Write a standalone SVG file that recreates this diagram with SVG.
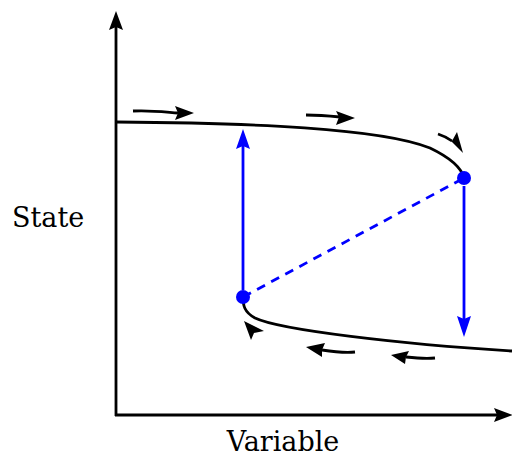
<svg xmlns="http://www.w3.org/2000/svg" width="512" height="457" viewBox="0 0 512 457">
<style>
.k{fill:none;stroke:#000;stroke-width:2.8}
.b{fill:none;stroke:#0000ff;stroke-width:2.8}
.t{font-family:"DejaVu Serif","Liberation Serif",serif;font-size:27px;fill:#000}
</style>
<rect width="512" height="457" fill="#fff"/>
<g id="axes">
<line class="k" x1="116" y1="416" x2="116" y2="26"/>
<path d="M116,11 L109,30 L116,27 L123,30 Z" fill="#000"/>
<line class="k" x1="115" y1="415" x2="498" y2="415"/>
<path d="M513,415 L494,408 L497,415 L494,422 Z" fill="#000"/>
<text class="t" x="12" y="227">State</text>
<text class="t" x="283" y="451" text-anchor="middle">Variable</text>
</g>
<g id="branches">
<path class="k" d="M116,122 C250,123 380,128 430,148 C455,160 462,170 464,178"/>
<path class="k" d="M243,297 C243,305 244,312 255,318 C280,330 400,344 512,351"/>
<path class="b" d="M243,297 L464,178" stroke-dasharray="9,7"/>
</g>
<g id="points">
<circle cx="243" cy="297" r="7" fill="#0000ff"/>
<circle cx="464" cy="178" r="7" fill="#0000ff"/>
</g>
<g id="connectors">
<line class="b" x1="243" y1="290" x2="243" y2="145"/>
<path d="M243,129 L236,149 L243,146 L250,149 Z" fill="#0000ff"/>
<line class="b" x1="464" y1="186" x2="464" y2="320"/>
<path d="M464,337 L457,316 L464,319 L471,316 Z" fill="#0000ff"/>
<path class="k" d="M133,111 C150,110 165,112 178,113"/>
<path d="M194,113 L175,106 L178,113 L175,120 Z" fill="#000"/>
<path class="k" d="M306,115 C320,115 330,116 340,117"/>
<path d="M355,118 L336,111 L339,117 L336,125 Z" fill="#000"/>
<path class="k" d="M438,134 C444,136 448,138 452,141"/>
<path d="M463,153 L447,137 L452,141 L457,132 Z" fill="#000"/>
<path d="M244,321 L251,340 L254,333 L264,331 Z" fill="#000"/>
<path class="k" d="M355,352 C345,353 335,352 322,350"/>
<path d="M306,347 L325,343 L322,350 L322,357 Z" fill="#000"/>
<path class="k" d="M435,358 C425,359 415,358 406,357"/>
<path d="M391,355 L409,351 L406,357 L405,364 Z" fill="#000"/>
</g>
</svg>
